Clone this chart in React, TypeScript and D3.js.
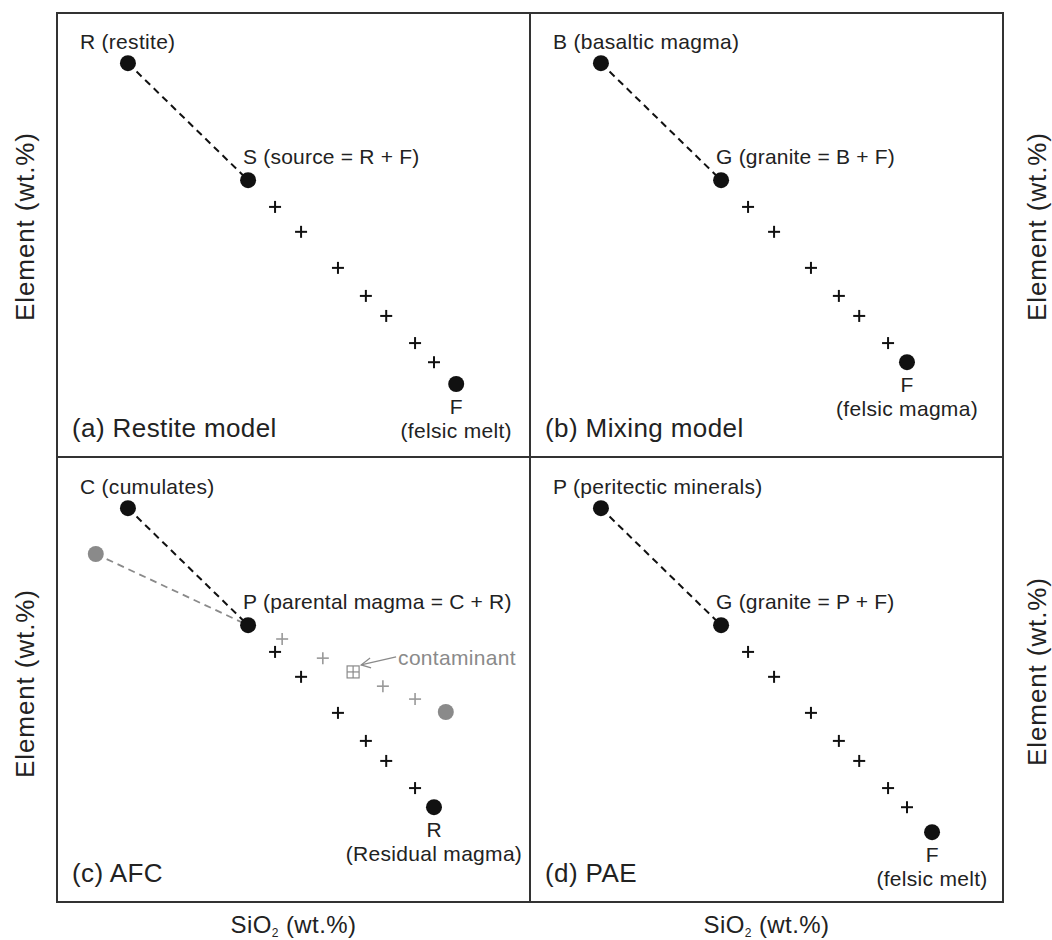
import React from "react"
import * as d3 from "d3"

// panel frames (page pixels)
const W = 1052
const H = 940
const panelW = 473
const panelH = 445
const panelX = [57, 530, 57, 530]
const panelY = [12, 12, 457, 457]
const panelTitles = ["(a) Restite model", "(b) Mixing model", "(c) AFC", "(d) PAE"]

// node values per panel: [start, middle, end] in 0-100 units
const startX = [15.0, 15.0, 15.0, 15.0]
const startY = [88.5, 88.5, 88.5, 88.5]
const midX = [40.4, 40.4, 40.4, 40.4]
const midY = [62.2, 62.2, 62.2, 62.2]
const endX = [84.4, 79.7, 79.7, 85.0]
const endY = [16.4, 21.3, 21.3, 15.7]

const startLabels = ["R (restite)", "B (basaltic magma)", "C (cumulates)", "P (peritectic minerals)"]
const midLabels = ["S (source = R + F)", "G (granite = B + F)", "P (parental magma = C + R)", "G (granite = P + F)"]
const endCodes = ["F", "F", "R", "F"]
const endNames = ["(felsic melt)", "(felsic magma)", "(Residual magma)", "(felsic melt)"]

// crosses between middle and end node
const crossX = [46.1, 51.6, 59.4, 65.3, 69.6, 75.7, 79.7]
const crossY = [56.2, 50.6, 42.5, 36.2, 31.7, 25.6, 21.3]
const crossCount = [7, 6, 6, 7]

// AFC contamination path (panel c)
const grayStartX = 8.2
const grayStartY = 78.2
const grayCrossX = [47.6, 56.2, 68.9, 75.7]
const grayCrossY = [59.1, 54.8, 48.5, 45.6]
const contamX = 62.6
const contamY = 51.7
const grayEndX = 82.2
const grayEndY = 42.7

const x = d3.scaleLinear().domain([0, 100]).range([0, panelW])
const y = d3.scaleLinear().domain([0, 100]).range([panelH, 0])

const font = "'Liberation Sans', Arial, Helvetica, sans-serif"
const ink = "#222"
const gray = "#8a8a8a"

const Cross = ({ cx, cy, color, w }: { cx: number; cy: number; color: string; w: number }) => (
  <g stroke={color} strokeWidth={w}>
    <line x1={cx - 6} x2={cx + 6} y1={cy} y2={cy} />
    <line x1={cx} x2={cx} y1={cy - 6} y2={cy + 6} />
  </g>
)

const Panel = ({ i }: { i: number }) => {
  const sx = x(startX[i]), sy = y(startY[i])
  const mx = x(midX[i]), my = y(midY[i])
  const ex = x(endX[i]), ey = y(endY[i])
  const crosses = d3.range(crossCount[i])
  return (
    <g transform={`translate(${panelX[i]},${panelY[i]})`} fontFamily={font} fill={ink}>
      {i === 2 && (
        <g>
          <line x1={x(grayStartX)} y1={y(grayStartY)} x2={mx} y2={my} stroke={gray} strokeWidth={1.8} strokeDasharray="7,5" />
          <circle cx={x(grayStartX)} cy={y(grayStartY)} r={8} fill={gray} />
          {grayCrossX.map((v, j) => (
            <Cross key={j} cx={x(v)} cy={y(grayCrossY[j])} color="#999" w={1.6} />
          ))}
          <g stroke={gray} strokeWidth={1.2} fill="none">
            <rect x={x(contamX) - 6} y={y(contamY) - 6} width={12} height={12} fill="#fff" />
            <line x1={x(contamX) - 6} x2={x(contamX) + 6} y1={y(contamY)} y2={y(contamY)} />
            <line x1={x(contamX)} x2={x(contamX)} y1={y(contamY) - 6} y2={y(contamY) + 6} />
            <line x1={x(contamX) + 8} y1={y(contamY) - 7} x2={x(contamX) + 43} y2={y(contamY) - 15} />
            <polyline points={`${x(contamX) + 17},${y(contamY) - 14} ${x(contamX) + 8},${y(contamY) - 7} ${x(contamX) + 18},${y(contamY) - 4}`} />
          </g>
          <text x={x(contamX) + 45} y={y(contamY) - 7} fontSize={21} fill={gray} letterSpacing={0.3}>contaminant</text>
          <circle cx={x(grayEndX)} cy={y(grayEndY)} r={8} fill={gray} />
        </g>
      )}
      <line x1={sx} y1={sy} x2={mx} y2={my} stroke="#111" strokeWidth={2} strokeDasharray="7,5" />
      {crosses.map(j => (
        <Cross key={j} cx={x(crossX[j])} cy={y(crossY[j])} color="#111" w={2} />
      ))}
      <circle cx={sx} cy={sy} r={8} fill="#111" />
      <circle cx={mx} cy={my} r={8} fill="#111" />
      <circle cx={ex} cy={ey} r={8} fill="#111" />
      <text x={sx - 48} y={sy - 14} fontSize={21} letterSpacing={0.3}>{startLabels[i]}</text>
      <text x={mx - 5} y={my - 16} fontSize={21} letterSpacing={0.2}>{midLabels[i]}</text>
      <text x={ex} y={ey + 30} fontSize={21} textAnchor="middle">{endCodes[i]}</text>
      <text x={ex} y={ey + 54} fontSize={21} textAnchor="middle" letterSpacing={0.3}>{endNames[i]}</text>
      <text x={15} y={panelH - 20} fontSize={26} letterSpacing={0.4}>{panelTitles[i]}</text>
    </g>
  )
}

const App = () => {
  const left = panelX[0], top = 13
  const right = panelX[1] + panelW, bottom = panelY[2] + panelH
  return (
    <svg width={W} height={H} style={{ position: "absolute", left: 0, top: 0 }}>
      <rect width={W} height={H} fill="#fff" />
      {[0, 1, 2, 3].map(i => <Panel key={i} i={i} />)}
      <g stroke="#333" strokeWidth={2} fill="none">
        <rect x={left} y={top} width={right - left} height={bottom - top} />
        <line x1={panelX[1]} x2={panelX[1]} y1={top} y2={bottom} />
        <line x1={left} x2={right} y1={panelY[2]} y2={panelY[2]} />
      </g>
      <g fontFamily={font} fill={ink}>
        {[0, 1].map(i => (
          <text key={i} x={panelX[i] + panelW / 2} y={933} textAnchor="middle" fontSize={24} letterSpacing={0.4}>
            SiO<tspan fontSize={12} dy={4}>2</tspan><tspan dy={-4}> (wt.%)</tspan>
          </text>
        ))}
        {[0, 2].map(i => (
          <text key={"l" + i} transform={`translate(34,${panelY[i] + panelH / 2 + (i === 0 ? -8 : 4)}) rotate(-90)`} textAnchor="middle" fontSize={26} letterSpacing={0.9}>Element (wt.%)</text>
        ))}
        {[0, 2].map(i => (
          <text key={"r" + i} transform={`translate(1046,${panelY[i] + panelH / 2 - 8}) rotate(-90)`} textAnchor="middle" fontSize={26} letterSpacing={0.9}>Element (wt.%)</text>
        ))}
      </g>
    </svg>
  )
}

export default App
